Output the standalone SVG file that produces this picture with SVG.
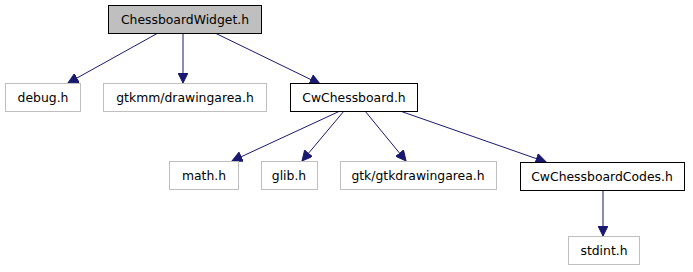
<svg xmlns="http://www.w3.org/2000/svg" width="693" height="272" viewBox="0 0 693 272">
  <style>
    .box { fill: #ffffff; stroke: #000000; stroke-width: 1; }
    .root { fill: #bfbfbf; stroke: #000000; stroke-width: 1; }
    .ext { fill: #ffffff; stroke: #bfbfbf; stroke-width: 1; }
    text { font-family: "DejaVu Sans", sans-serif; font-size: 12.4px; text-anchor: middle; fill: #000000; }
    .edge { fill: none; stroke: #191970; stroke-width: 1; }
  </style>
  <defs>
    <marker id="arrow" viewBox="0 0 10 10" refX="10" refY="5" markerWidth="11" markerHeight="10" markerUnits="userSpaceOnUse" orient="auto">
      <path d="M0,0 L10,5 L0,10 z" fill="#191970" stroke="#191970"/>
    </marker>
  </defs>
  <rect width="693" height="272" fill="#ffffff"/>

  <g id="edges">
    <path class="edge" d="M158,33 L68,83" marker-end="url(#arrow)"/>
    <path class="edge" d="M183,33 L183,83" marker-end="url(#arrow)"/>
    <path class="edge" d="M215,33 L320,84" marker-end="url(#arrow)"/>
    <path class="edge" d="M340,111 L232,161" marker-end="url(#arrow)"/>
    <path class="edge" d="M344,111 L302,161" marker-end="url(#arrow)"/>
    <path class="edge" d="M365,111 L406,161" marker-end="url(#arrow)"/>
    <path class="edge" d="M400,111 L546,162" marker-end="url(#arrow)"/>
    <path class="edge" d="M603,190 L603,236" marker-end="url(#arrow)"/>
  </g>

  <g id="ChessboardWidget_h">
    <rect class="root" x="108.5" y="5.5" width="153" height="28"/>
    <text x="185" y="24">ChessboardWidget.h</text>
  </g>
  <g id="debug_h">
    <rect class="ext" x="5.5" y="83.5" width="75" height="28"/>
    <text x="43" y="102">debug.h</text>
  </g>
  <g id="gtkmm_drawingarea_h">
    <rect class="ext" x="103.5" y="83.5" width="163" height="28"/>
    <text x="185" y="102">gtkmm/drawingarea.h</text>
  </g>
  <g id="CwChessboard_h">
    <rect class="box" x="290.5" y="83.5" width="127" height="28"/>
    <text x="354" y="102">CwChessboard.h</text>
  </g>
  <g id="math_h">
    <rect class="ext" x="169.5" y="161.5" width="69" height="28"/>
    <text x="204" y="180">math.h</text>
  </g>
  <g id="glib_h">
    <rect class="ext" x="261.5" y="161.5" width="56" height="28"/>
    <text x="289" y="180">glib.h</text>
  </g>
  <g id="gtk_gtkdrawingarea_h">
    <rect class="ext" x="340.5" y="161.5" width="156" height="28"/>
    <text x="418" y="180">gtk/gtkdrawingarea.h</text>
  </g>
  <g id="CwChessboardCodes_h">
    <rect class="box" x="520.5" y="162.5" width="164" height="28"/>
    <text x="602" y="181">CwChessboardCodes.h</text>
  </g>
  <g id="stdint_h">
    <rect class="ext" x="568.5" y="236.5" width="71" height="28"/>
    <text x="604" y="255">stdint.h</text>
  </g>
</svg>
